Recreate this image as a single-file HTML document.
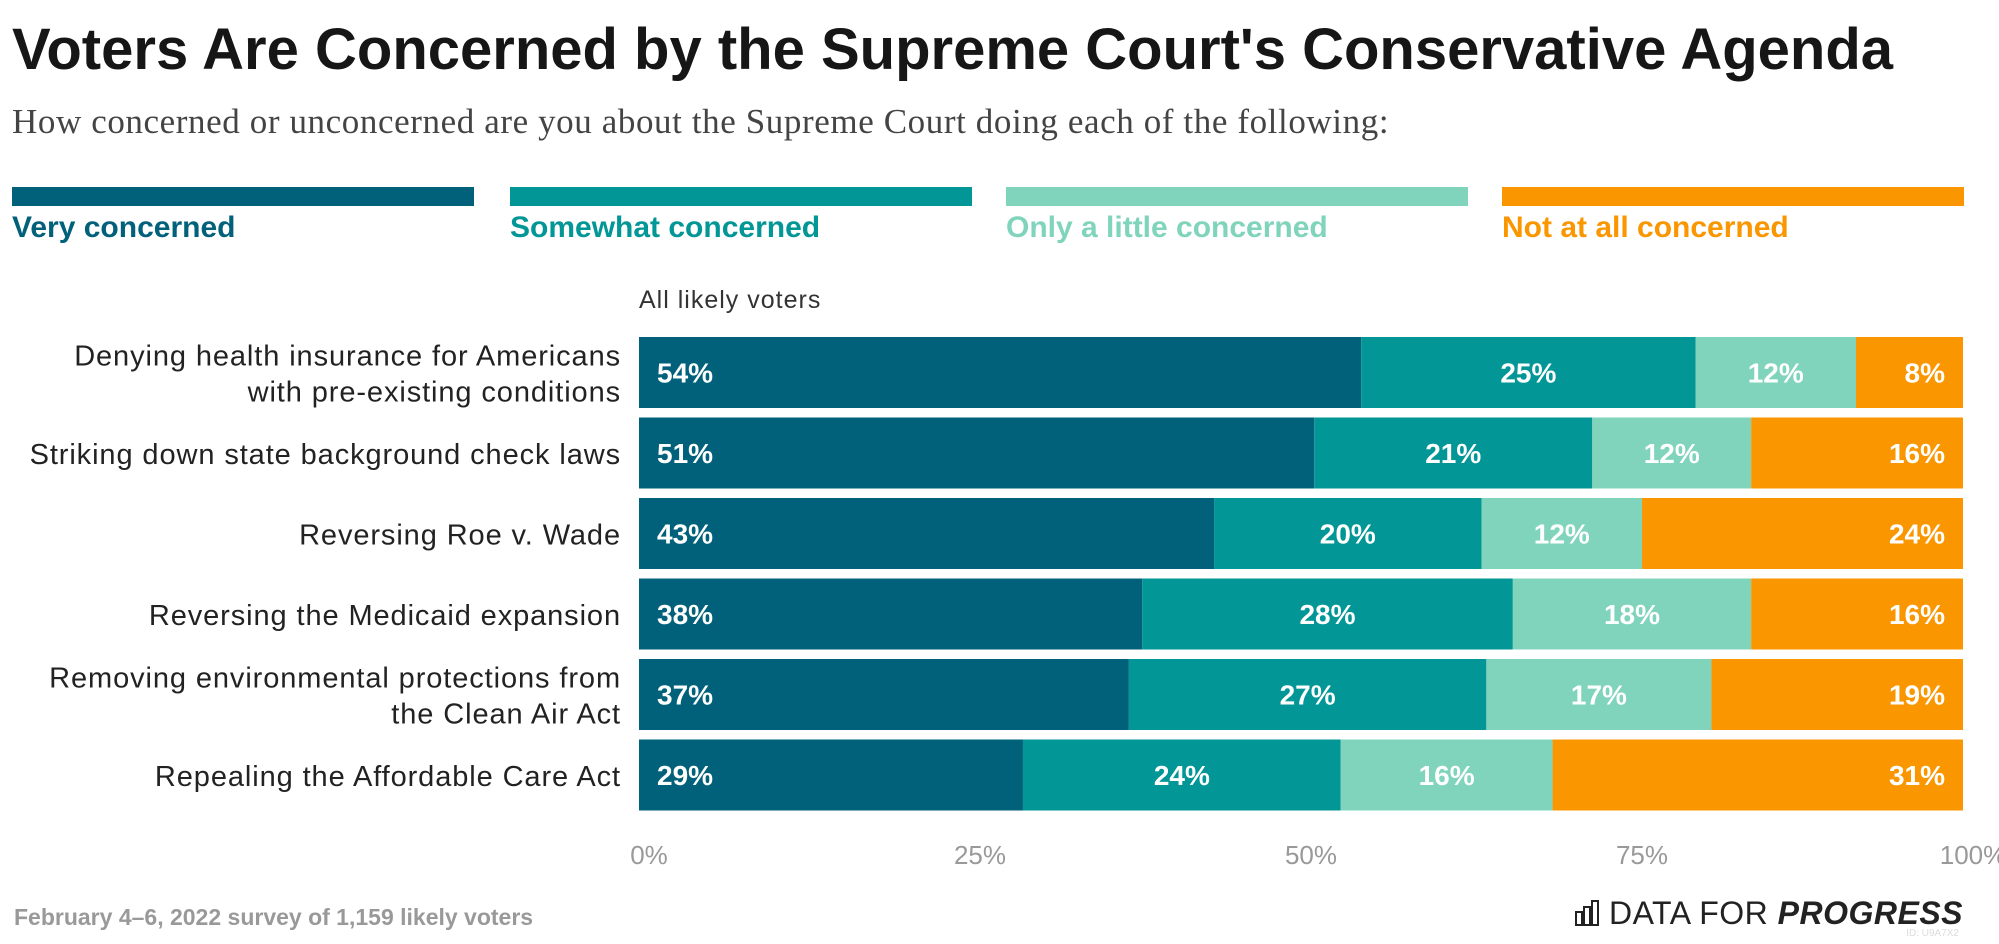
<!DOCTYPE html>
<html><head><meta charset="utf-8"><style>
body{margin:0;width:1999px;height:944px;background:#fff;font-family:"Liberation Sans",sans-serif;overflow:hidden;position:relative}
.abs{position:absolute;white-space:nowrap}
</style></head><body>
<div class="abs" style="left:12px;top:16px;font-size:58px;font-weight:bold;color:#161616;letter-spacing:0px">Voters Are Concerned by the Supreme Court's Conservative Agenda</div>
<div class="abs" style="left:12px;top:102px;font-family:'Liberation Serif',serif;font-size:35px;color:#444;letter-spacing:0.6px">How concerned or unconcerned are you about the Supreme Court doing each of the following:</div>
<div id="legend"></div>
<div class="abs" style="left:639px;top:286px;font-size:25px;color:#333;letter-spacing:1px">All likely voters</div>
<svg id="chart" width="1999" height="944" style="position:absolute;left:0;top:0"></svg>
<div class="abs" style="left:14px;top:904px;font-size:23px;font-weight:bold;color:#999">February 4–6, 2022 survey of 1,159 likely voters</div>
<div class="abs" style="right:36px;top:895px;font-size:32px;color:#222;letter-spacing:0.5px">
<svg width="28" height="26" style="vertical-align:-2px;margin-right:6px"><g fill="none" stroke="#222" stroke-width="2"><rect x="1" y="12" width="6" height="13"/><rect x="9" y="7" width="6" height="18"/><rect x="17" y="1" width="6" height="24"/></g></svg>DATA FOR <b><i>PROGRESS</i></b></div>
<div class="abs" style="right:40px;top:928px;font-size:10px;color:#ddd">ID: U9A7X2</div>
<script>
const categories=["Denying health insurance for Americans|with pre-existing conditions","Striking down state background check laws","Reversing Roe v. Wade","Reversing the Medicaid expansion","Removing environmental protections from|the Clean Air Act","Repealing the Affordable Care Act"];
const seriesNames=["Very concerned","Somewhat concerned","Only a little concerned","Not at all concerned"];
const veryConcerned=[54,51,43,38,37,29];
const somewhatConcerned=[25,21,20,28,27,24];
const littleConcerned=[12,12,12,18,17,16];
const notConcerned=[8,16,24,16,19,31];
const tickValues=[0,25,50,75,100];
const tickLabels=["0%","25%","50%","75%","100%"];
const colors=["#02617a","#029696","#80d4bb","#fa9600"];
const series=[veryConcerned,somewhatConcerned,littleConcerned,notConcerned];
const X0=639,X1=1963,Y0=337,STEP=80.5,BH=71;
const xs=v=>X0+(X1-X0)*v/100;
const ns="http://www.w3.org/2000/svg";
const svg=document.getElementById('chart');
const lg=document.getElementById('legend');
const lx=[12,510,1006,1502],lw=462;
seriesNames.forEach((n,i)=>{
  const b=document.createElement('div');b.className='abs';
  b.style.cssText=`left:${lx[i]}px;top:187px;width:${lw}px;height:19px;background:${colors[i]}`;
  
  
  lg.appendChild(b);
  const t=document.createElement('div');t.className='abs';
  t.style.cssText=`left:${lx[i]}px;top:211px;font-size:30px;font-weight:bold;color:${colors[i]}`;
  t.textContent=n;
  
  
  lg.appendChild(t);
});
function txt(x,y,s,attrs){const t=document.createElementNS(ns,'text');t.setAttribute('x',x);t.setAttribute('y',y);t.textContent=s;for(const k in attrs)t.setAttribute(k,attrs[k]);svg.appendChild(t);return t;}
categories.forEach((c,r)=>{
  const y=Y0+r*STEP;
  const tot=series.reduce((a,s)=>a+s[r],0);
  let acc=0;
  series.forEach((s,i)=>{
    const a=xs(acc/tot*100),b=xs((acc+s[r])/tot*100);acc+=s[r];
    const rc=document.createElementNS(ns,'rect');
    rc.setAttribute('x',a);rc.setAttribute('y',y);rc.setAttribute('width',b-a);rc.setAttribute('height',BH);rc.setAttribute('fill',colors[i]);
    
    
    svg.appendChild(rc);
    let tx,anc;
    if(i===0){tx=a+18;anc='start';}else if(i===3){tx=b-18;anc='end';}else{tx=(a+b)/2;anc='middle';}
    const t=txt(tx,y+BH/2+10,s[r]+'%',{'font-size':28,'font-weight':'bold',fill:'#fff','text-anchor':anc,'font-family':'Liberation Sans, sans-serif'});
    
    
  });
  const lines=c.split('|');
  lines.forEach((ln,k)=>{
    const yy=y+BH/2+11+(lines.length===2?(k===0?-18:18):0);
    const t=txt(621,yy,ln,{'font-size':29,fill:'#222','text-anchor':'end','font-family':'Liberation Sans, sans-serif','letter-spacing':'0.9'});
    
    
  });
});
tickValues.forEach((v,i)=>{
  const t=txt(xs(v)+10,864,tickLabels[i],{'font-size':26,fill:'#999','text-anchor':'middle','font-family':'Liberation Sans, sans-serif'});
  
  
});
</script>
</body></html>
